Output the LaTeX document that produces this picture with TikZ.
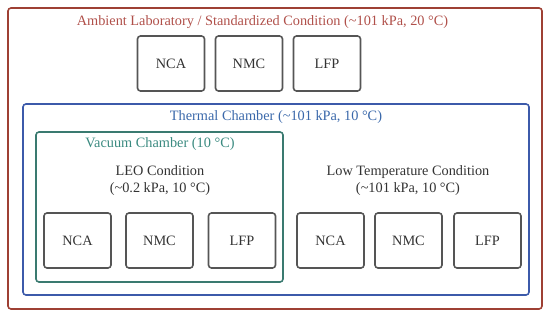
\documentclass[tikz,border=0pt]{standalone}
\usepackage{fontspec}
\setmainfont{Liberation Serif}
\definecolor{ambient}{HTML}{9E4034}
\definecolor{ambienttext}{HTML}{B0504A}
\definecolor{thermal}{HTML}{3C5AAA}
\definecolor{thermaltext}{HTML}{3A68AA}
\definecolor{vacuum}{HTML}{3A7A70}
\definecolor{vacuumtext}{HTML}{3A8A80}
\definecolor{cellline}{HTML}{555555}
\definecolor{celltext}{HTML}{333333}
\tikzset{
	frame/.style={line width=1.6pt, rounded corners=3pt},
	cell/.style={draw=cellline, line width=1.6pt, rounded corners=3pt,
		minimum width=67pt, minimum height=55pt, text=celltext, font=\fontsize{14.3}{17}\selectfont},
	caption/.style={font=\fontsize{14.3}{17}\selectfont, align=center, inner sep=0pt}
}
\begin{document}
\begin{tikzpicture}[x=1pt, y=-1pt]
		\useasboundingbox (0, 0) rectangle (550, 319);
		
		% Ambient laboratory
		\draw[frame, ambient] (8, 8) rectangle (542, 309);
		\node[caption, text=ambienttext] (ambient) at (262.5, 22) {Ambient Laboratory / Standardized Condition (\char"007E 101 kPa, 20 °C)};
		\node[cell] (refnca) at (171, 63.5) {NCA};
		\node[cell] (refnmc) at (249, 63.5) {NMC};
		\node[cell] (reflfp) at (327, 63.5) {LFP};
		
		% Thermal chamber
		\draw[frame, thermal] (23, 104) rectangle (529, 295);
		\node[caption, text=thermaltext] (thermal) at (276, 117) {Thermal Chamber (\char"007E 101 kPa, 10 °C)};
		
		% Vacuum chamber
		\draw[frame, vacuum] (36, 132) rectangle (283, 282);
		\node[caption, text=vacuumtext] (vacuum) at (160, 144) {Vacuum Chamber (10 °C)};
		\node[caption, text=celltext] (leo) at (160, 181) {LEO Condition\\(\char"007E 0.2 kPa, 10 °C)};
		\node[cell] (leonca) at (77.5, 240.5) {NCA};
		\node[cell] (leonmc) at (159.5, 240.5) {NMC};
		\node[cell] (leolfp) at (242, 240.5) {LFP};
		
		% Low temperature
		\node[caption, text=celltext] (lowtemp) at (408, 181) {Low Temperature Condition\\(\char"007E 101 kPa, 10 °C)};
		\node[cell] (lownca) at (330.5, 240.5) {NCA};
		\node[cell] (lownmc) at (408.5, 240.5) {NMC};
		\node[cell] (lowlfp) at (487.5, 240.5) {LFP};
	\end{tikzpicture}
\end{document}
